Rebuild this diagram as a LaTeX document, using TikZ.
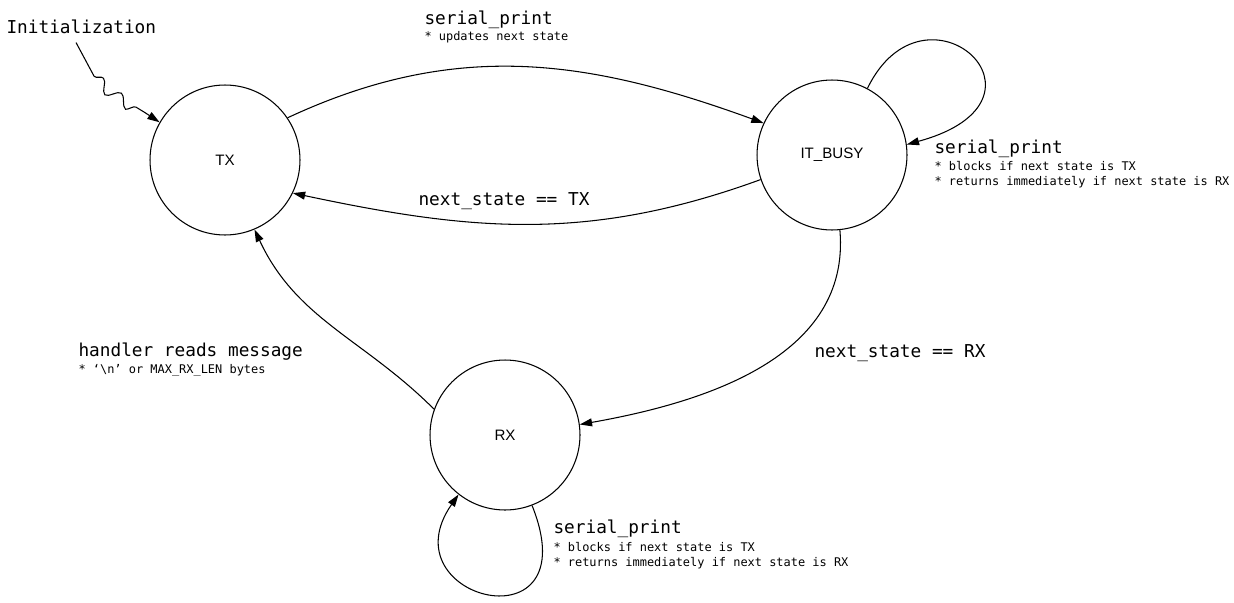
\documentclass[tikz,border=0pt]{standalone}
\usepackage{fontspec}
\setmainfont{Liberation Sans}
\newfontfamily\labelmono{DejaVu Sans Mono}
\usepackage{tikz}
\usetikzlibrary{arrows.meta}
\usetikzlibrary{positioning}
\usetikzlibrary{decorations.pathmorphing}

\newcommand{\bigmono}{\labelmono\fontsize{10.1}{12}\selectfont}
\newcommand{\smallmono}{\labelmono\fontsize{6.8}{9}\selectfont}

\begin{document}
\begin{tikzpicture}[x=0.02cm, y=0.02cm, line width=0.6pt]
		\useasboundingbox (0,0) rectangle (1234,-602);
		\begin{scope}[every node/.style = {circle, draw, minimum size=3cm, inner sep=0pt, font=\fontsize{8.6}{10}\selectfont}]
			\node (TX) at (225,-160) {TX};
			\node (IB) at (832,-155) {IT\_BUSY};
			\node (RX) at (505,-435) {RX};
		\end{scope}
		\begin{scope}[every node/.style = {anchor=base west, inner sep=0pt}]
			\node[font=\bigmono] (I) at (6,-33) {Initialization};
			\node[font=\bigmono] (P1) at (424,-24) {serial\_print};
			\node[font=\smallmono] (P1a) at (424,-40) {* updates next state};
			\node[font=\bigmono] (P2) at (934,-153) {serial\_print};
			\node[font=\smallmono] (P2a) at (934,-170) {* blocks if next state is TX};
			\node[font=\smallmono] (P2b) at (934,-185) {* returns immediately if next state is RX};
			\node[font=\bigmono] (N1) at (418,-205) {next\_state == TX};
			\node[font=\bigmono] (H) at (78,-356) {handler reads message};
			\node[font=\smallmono] (Ha) at (78,-373) {* \textquoteleft\textbackslash n\textquoteright{} or MAX\_RX\_LEN bytes};
			\node[font=\bigmono] (N2) at (814,-357) {next\_state == RX};
			\node[font=\bigmono] (P3) at (553,-533) {serial\_print};
			\node[font=\smallmono] (P3a) at (553,-551) {* blocks if next state is TX};
			\node[font=\smallmono] (P3b) at (553,-566) {* returns immediately if next state is RX};
		\end{scope}
		\begin{scope}[>={Triangle[length=7pt, width=4.5pt]}]
			\draw[->, decorate, decoration={snake, amplitude=3.2pt, segment length=14pt, pre length=22pt, post length=10pt}]
				([xshift=-3pt, yshift=-5pt]I.south) to[out=-75, in=145] (TX.150);
			\path[->] (TX.34) edge[out=25, in=160] (IB.155);
			\path[->] (IB.199) edge[out=200, in=-12] (TX.-26);
			\path[->] (IB.-84) edge[out=-85, in=10] (RX.8);
			\path[->] (RX.160) edge[out=135, in=-65] (TX.-67);
			\draw[->] (IB.62) .. controls (925,30) and (1070,-100) .. (IB.8);
			\draw[->] (RX.-69) .. controls (590,-650) and (385,-600) .. (RX.232);
		\end{scope}
	\end{tikzpicture}
\end{document}
